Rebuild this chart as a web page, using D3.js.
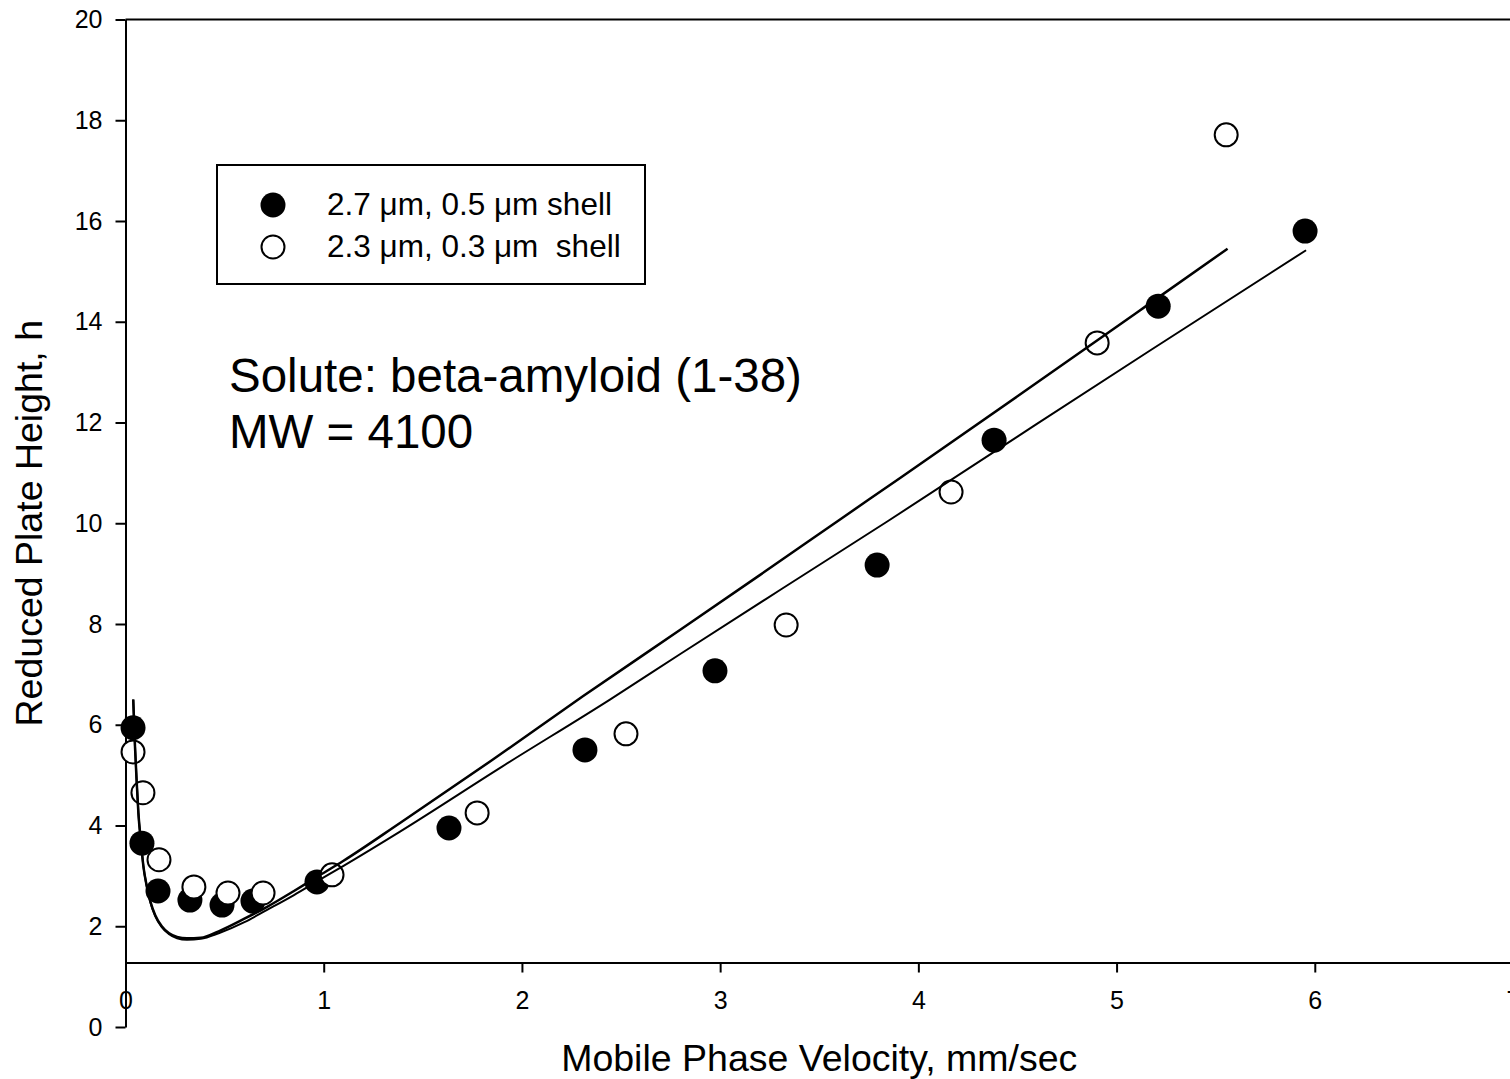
<!DOCTYPE html>
<html>
<head>
<meta charset="utf-8">
<script src="https://cdn.jsdelivr.net/npm/d3@7"></script>
<style>
  body { margin: 0; background: #fff; }
  svg { font-family: "Liberation Sans", Arial, sans-serif; }
</style>
</head>
<body>
<div id="chart"></div>
<script>
// data
const xTicks = [0, 1, 2, 3, 4, 5, 6, 7];
const yTicks = [0, 2, 4, 6, 8, 10, 12, 14, 16, 18, 20];

// 2.7 um, 0.5 um shell (filled)
const filledX = [0.038, 0.083, 0.164, 0.325, 0.487, 0.643, 0.966, 1.632, 2.318, 2.974, 3.792, 4.382, 5.21, 5.951];
const filledY = [5.94, 3.65, 2.70, 2.52, 2.42, 2.50, 2.88, 3.95, 5.50, 7.07, 9.17, 11.65, 14.31, 15.80];

// 2.3 um, 0.3 um shell (open)
const openX = [0.038, 0.088, 0.169, 0.345, 0.517, 0.694, 1.042, 1.774, 2.525, 3.333, 4.165, 4.902, 5.553];
const openY = [5.46, 4.65, 3.32, 2.78, 2.66, 2.66, 3.02, 4.25, 5.82, 7.98, 10.62, 13.58, 17.71];

// fitted curves
const fitFilledX = [0.039, 0.048, 0.056, 0.065, 0.078, 0.09, 0.107, 0.125, 0.15, 0.183, 0.22, 0.26, 0.31, 0.38, 0.47, 0.6, 0.712, 0.85, 0.966, 1.1, 1.385, 1.9, 2.444, 2.797, 3.3, 3.849, 4.5, 5.169, 5.956];
const fitFilledY = [6.5, 5.56, 4.9, 4.25, 3.67, 3.2, 2.8, 2.48, 2.2, 1.98, 1.84, 1.76, 1.73, 1.75, 1.86, 2.08, 2.32, 2.62, 2.89, 3.2, 3.88, 5.17, 6.5, 7.4, 8.67, 10.05, 11.72, 13.43, 15.42];

const fitOpenX = [0.039, 0.048, 0.056, 0.065, 0.078, 0.09, 0.107, 0.125, 0.15, 0.183, 0.22, 0.26, 0.31, 0.38, 0.47, 0.6, 0.712, 0.85, 0.966, 1.1, 1.385, 1.85, 2.302, 2.797, 3.2, 3.614, 3.908, 4.5, 5.152, 5.56];
const fitOpenY = [6.5, 5.56, 4.9, 4.25, 3.67, 3.2, 2.8, 2.5, 2.22, 2.0, 1.86, 1.79, 1.76, 1.77, 1.9, 2.15, 2.38, 2.7, 2.98, 3.3, 4.05, 5.3, 6.55, 7.88, 8.97, 10.1, 10.9, 12.52, 14.32, 15.45];

const xAxisAt = 1.28;

const width = 1510;
const height = 1079;

const svg = d3.select("#chart")
    .append("svg")
    .attr("width", width)
    .attr("height", height);

const x = d3.scaleLinear().domain([0, 7]).range([125.5, 1513]);
const y = d3.scaleLinear().domain([0, 20]).range([1027, 19.5]);

// y axis
const yAxis = svg.append("g")
    .attr("transform", `translate(${x(0)},0)`)
    .call(d3.axisLeft(y).tickValues(yTicks).tickFormat(d3.format("d"))
        .tickSize(10).tickSizeOuter(0).tickPadding(13));

// x axis (crosses the y axis above zero)
const xAxis = svg.append("g")
    .attr("transform", `translate(0,${y(xAxisAt)})`)
    .call(d3.axisBottom(x).tickValues(xTicks).tickFormat(d3.format("d"))
        .tickSize(10).tickSizeOuter(0).tickPadding(19));

[yAxis, xAxis].forEach(g => {
    g.selectAll("path, line").attr("stroke", "#000").attr("stroke-width", 2);
    g.selectAll("text").attr("fill", "#000").style("font-size", "25px").style("font-family", "Liberation Sans, Arial, sans-serif");
});

// top frame line
svg.append("line")
    .attr("x1", x(0)).attr("x2", x(7))
    .attr("y1", y(20)).attr("y2", y(20))
    .attr("stroke", "#000").attr("stroke-width", 2);

// axis titles
svg.append("text")
    .attr("transform", `translate(42,${(y(0) + y(20)) / 2}) rotate(-90)`)
    .attr("text-anchor", "middle")
    .style("font-size", "37.5px")
    .text("Reduced Plate Height, h");

svg.append("text")
    .attr("x", (x(0) + x(7)) / 2)
    .attr("y", 1071)
    .attr("text-anchor", "middle")
    .style("font-size", "37.5px")
    .text("Mobile Phase Velocity, mm/sec");

// markers
const filled = filledX.map((d, i) => ({ x: d, y: filledY[i] }));
const open = openX.map((d, i) => ({ x: d, y: openY[i] }));

svg.append("g").selectAll("circle")
    .data(filled)
    .enter()
    .append("circle")
    .attr("cx", d => x(d.x))
    .attr("cy", d => y(d.y))
    .attr("r", 12.5)
    .attr("fill", "#000");

svg.append("g").selectAll("circle")
    .data(open)
    .enter()
    .append("circle")
    .attr("cx", d => x(d.x))
    .attr("cy", d => y(d.y))
    .attr("r", 11.5)
    .attr("fill", "#fff")
    .attr("stroke", "#000")
    .attr("stroke-width", 2);

// fitted curves
const line = d3.line()
    .x(d => x(d[0]))
    .y(d => y(d[1]))
    .curve(d3.curveMonotoneX);

svg.append("path")
    .datum(fitFilledX.map((d, i) => [d, fitFilledY[i]]))
    .attr("d", line)
    .attr("fill", "none")
    .attr("stroke", "#000")
    .attr("stroke-width", 2);

svg.append("path")
    .datum(fitOpenX.map((d, i) => [d, fitOpenY[i]]))
    .attr("d", line)
    .attr("fill", "none")
    .attr("stroke", "#000")
    .attr("stroke-width", 2.5);

// legend
const legend = svg.append("g");
legend.append("rect")
    .attr("x", 217).attr("y", 165)
    .attr("width", 428).attr("height", 119)
    .attr("fill", "#fff")
    .attr("stroke", "#000")
    .attr("stroke-width", 2);

legend.append("circle")
    .attr("cx", 273).attr("cy", 205)
    .attr("r", 12.5)
    .attr("fill", "#000");
legend.append("circle")
    .attr("cx", 273).attr("cy", 247)
    .attr("r", 11.5)
    .attr("fill", "#fff")
    .attr("stroke", "#000")
    .attr("stroke-width", 2);

legend.append("text")
    .attr("x", 327).attr("y", 215)
    .style("font-size", "31.5px")
    .text("2.7 \u03bcm, 0.5 \u03bcm shell");
legend.append("text")
    .attr("x", 327).attr("y", 257)
    .style("font-size", "31.5px")
    .style("white-space", "pre")
    .text("2.3 \u03bcm, 0.3 \u03bcm  shell");

// annotation
svg.append("text")
    .attr("x", 229).attr("y", 392)
    .style("font-size", "47.5px")
    .text("Solute: beta-amyloid (1-38)");
svg.append("text")
    .attr("x", 229).attr("y", 448)
    .style("font-size", "47.5px")
    .text("MW = 4100");
</script>
</body>
</html>
